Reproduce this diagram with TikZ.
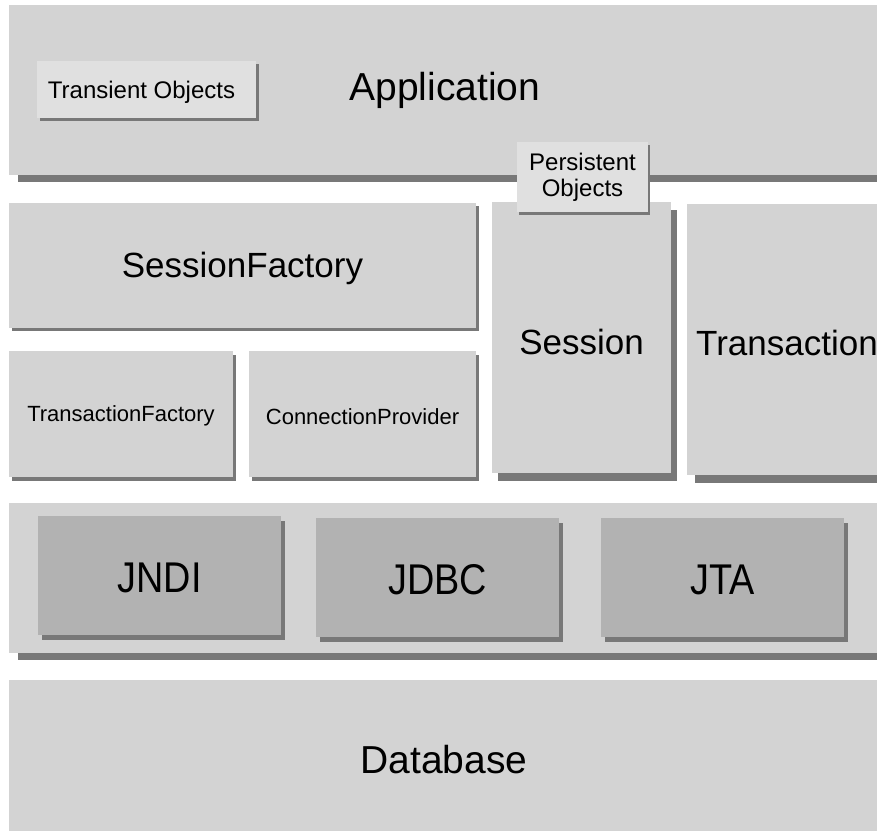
\documentclass[tikz,border=0pt]{standalone}
\usepackage{fontspec}
\setmainfont{Liberation Sans}
\newfontfamily\narrowfont[FakeStretch=0.88]{Liberation Sans}
\usepackage{xcolor}
\usepackage{tikz}
\usetikzlibrary{shadows, positioning}
\definecolor{layergray}{HTML}{D3D3D3}
\definecolor{lightgray}{HTML}{E0E0E0}
\definecolor{apigray}{HTML}{B2B2B2}
\definecolor{shadowgray}{HTML}{787878}
\tikzstyle{layer} = [rectangle, anchor=north west, inner sep=0pt, outer sep=0pt, fill=layergray, text centered]
\tikzstyle{objbox} = [rectangle, anchor=north west, inner sep=0pt, outer sep=0pt, fill=lightgray, text centered, font=\fontsize{24}{26}\selectfont]
\tikzstyle{api} = [rectangle, anchor=north west, inner sep=0pt, outer sep=0pt, fill=apigray, text centered, font=\narrowfont\fontsize{43}{46}\selectfont]
\tikzstyle{bigfont} = [font=\fontsize{39}{44}\selectfont]
\tikzstyle{midfont} = [font=\fontsize{35}{40}\selectfont]
\tikzstyle{smallfont} = [font=\fontsize{22}{26}\selectfont]
\tikzset{shadowed/.style 2 args={drop shadow={shadow xshift=#1pt, shadow yshift=-#2pt, fill=shadowgray, opacity=1}}}
% lower a label inside its box by half of #1
\newcommand{\lowered}[2]{\raisebox{0pt}[\dimexpr\height+#1pt\relax]{#2}}

\begin{document}
\begin{tikzpicture}[x=1pt, y=-1pt]
    \path[use as bounding box] (0,0) rectangle (877,831);
    \clip (0,0) rectangle (877,831);

    % Application layer
    \node (app) [layer, bigfont, shadowed={9}{7}, minimum width=872pt, minimum height=170pt] at (9,5) {Application};
    \node (transient) [objbox, shadowed={3}{2.5}, minimum width=219pt, minimum height=57pt] at (37,61) {\lowered{6}{Transient Objects}\kern10pt};

    % Hibernate core
    \node (sfactory) [layer, midfont, shadowed={3}{3}, minimum width=467pt, minimum height=125pt] at (9,203) {\lowered{6}{SessionFactory}};
    \node (tfactory) [layer, smallfont, shadowed={3}{4}, minimum width=224pt, minimum height=126pt] at (9,351) {\lowered{4}{TransactionFactory}};
    \node (cprovider) [layer, smallfont, shadowed={3}{4}, minimum width=227pt, minimum height=126pt] at (249,351) {\lowered{6}{ConnectionProvider}};
    \node (session) [layer, midfont, shadowed={6}{8}, minimum width=179pt, minimum height=271pt] at (492,202) {\lowered{8}{Session}};
    \node (transaction) [layer, midfont, shadowed={8}{8}, minimum width=200pt, minimum height=271pt] at (687,204) {\lowered{6}{Transaction}};
    \node (persistent) [objbox, align=center, shadowed={2}{3}, minimum width=131pt, minimum height=70pt] at (517,142) {Persistent\\Objects};

    % Java APIs
    \node (apis) [layer, shadowed={9}{7}, minimum width=870pt, minimum height=150pt] at (9,503) {};
    \node (jndi) [api, shadowed={4}{5}, minimum width=243pt, minimum height=119pt] at (38,516) {\lowered{4}{JNDI}};
    \node (jdbc) [api, shadowed={4}{5}, minimum width=243pt, minimum height=119pt] at (316,518) {\lowered{4}{JDBC}};
    \node (jta) [api, shadowed={4}{5}, minimum width=243pt, minimum height=119pt] at (601,518) {\lowered{4}{JTA}};

    % Database
    \node (db) [layer, bigfont, minimum width=870pt, minimum height=151pt] at (9,680) {\lowered{8}{Database}};
\end{tikzpicture}
\end{document}
